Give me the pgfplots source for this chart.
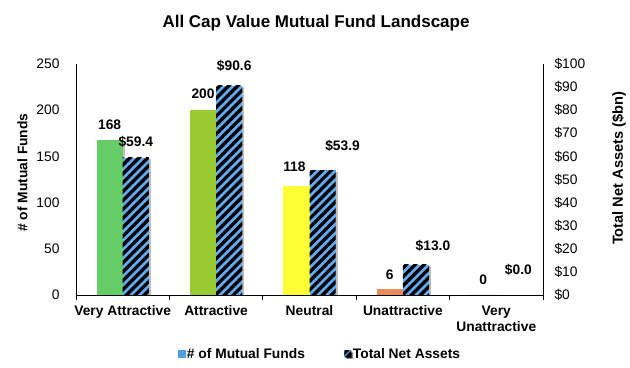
\documentclass[border=0pt]{standalone}
\usepackage{pgfplots}
\pgfplotsset{compat=1.18}
\usepackage{fontspec}
\setmainfont{Liberation Sans}
\usetikzlibrary{patterns.meta,shadows}
\definecolor{cVA}{RGB}{102,204,102}
\definecolor{cA}{RGB}{153,204,51}
\definecolor{cN}{RGB}{255,255,51}
\definecolor{cU}{RGB}{232,140,90}
\definecolor{cVU}{RGB}{220,60,50}
\definecolor{cBlue}{RGB}{100,170,240}
\definecolor{cLeg}{RGB}{80,155,230}
\newcommand{\tf}{\fontsize{13.8bp}{16bp}\selectfont}
\newcommand{\bff}{\bfseries\fontsize{13.8bp}{16bp}\selectfont}
\begin{document}
\begin{tikzpicture}
\path[use as bounding box] (0,0) rectangle (630bp,368bp);
\pgfplotsset{
  common/.style={
    scale only axis, width=467bp, height=231bp,
    at={(76bp,73bp)}, anchor=south west,
    xmin=-0.5, xmax=4.5, ymin=0,
    /pgf/number format/assume math mode=true,
    tick label style={font=\tf, text=black},
    label style={font=\bff},
    axis line style={black, line width=0.8bp, -},
    ytick style={draw=none},
  },
  vbar/.style={ybar, bar width=0.28, bar shift=0pt, draw=none,
    drop shadow={shadow xshift=2bp, shadow yshift=-1.5bp, fill=black, opacity=0.25},
    nodes near coords, every node near coord/.append style={font=\bff, text=black}},
  lab/.style 2 args={every node near coord/.append style={xshift=#1bp, yshift=#2bp}},
  hatch/.style={vbar, fill=cBlue,
    postaction={pattern={Lines[angle=45,distance=6.3bp,line width=3.3bp]}, pattern color=black},
    point meta=explicit symbolic, nodes near coords={\pgfplotspointmeta}},
}
\begin{axis}[common, ymax=250,
  axis y line*=left, axis x line*=bottom,
  ytick={0,50,...,250},
  yticklabel style={xshift=-8bp},
  ylabel={\# of Mutual Funds},
  ylabel style={at={(ticklabel cs:0.53)}, yshift=2bp},
  xtick={-0.5,0.5,...,4.5}, xticklabels={,,,,,},
  xtick style={black, line width=0.8bp},
  tick align=outside, major tick length=5bp,
  extra x ticks={0,1,2,3,4},
  extra x tick labels={Very Attractive, Attractive, Neutral, Unattractive, {Very\\Unattractive}},
  extra x tick style={major tick length=0pt, tick label style={font=\bff, align=center, yshift=-7bp}},
]
\addplot[vbar, fill=cVA, lab={0}{7}] coordinates {(-0.14,168)};
\addplot[vbar, fill=cA, lab={0}{8}] coordinates {(0.86,200)};
\addplot[vbar, fill=cN, lab={-2}{11}] coordinates {(1.86,118)};
\addplot[vbar, fill=cU, lab={0}{6.5}] coordinates {(2.86,6)};
\addplot[vbar, fill=cVU, lab={0}{7}] coordinates {(3.86,0)};
\end{axis}
\begin{axis}[common, ymax=100,
  axis y line*=right, axis x line=none,
  ytick={0,10,...,100},
  yticklabel={\$\pgfmathprintnumber{\tick}},
  yticklabel style={xshift=8bp},
  ylabel={Total Net Assets (\$bn)},
  ylabel style={at={(ticklabel cs:0.548)}, yshift=-20bp, font=\bfseries\fontsize{14.6bp}{16bp}\selectfont},
  legend style={at={(0.522,-0.255)}, anchor=center, draw=none, fill=none,
    legend columns=2, font=\bff, nodes={inner xsep=1.5bp},
    /tikz/every even column/.append style={column sep=38bp},
    legend cell align=left},
]
\addlegendimage{legend image code/.code={\fill[cLeg] (0bp,-3.5bp) rectangle (7bp,3.5bp);}}
\addlegendentry{\# of Mutual Funds}
\addplot[hatch, lab={0}{7},
  legend image code/.code={\fill[cBlue] (0bp,-3.5bp) rectangle (7bp,3.5bp); \fill[black] (0bp,-3.5bp) -- (7bp,-3.5bp) -- (7bp,3.5bp) -- cycle;}]
  coordinates {(0.14,59.4) [\$59.4]};
\addlegendentry{Total Net Assets}
\addplot[hatch, forget plot, lab={5}{11}] coordinates {(1.14,90.6) [\$90.6]};
\addplot[hatch, forget plot, lab={20}{15}] coordinates {(2.14,53.9) [\$53.9]};
\addplot[hatch, forget plot, lab={17}{10}] coordinates {(3.14,13.0) [\$13.0]};
\addplot[hatch, forget plot, lab={9}{16}] coordinates {(4.14,0.0) [\$0.0]};
\end{axis}
\node[font=\bfseries\fontsize{17bp}{20bp}\selectfont] at (316bp,345bp) {All Cap Value Mutual Fund Landscape};
\end{tikzpicture}
\end{document}
